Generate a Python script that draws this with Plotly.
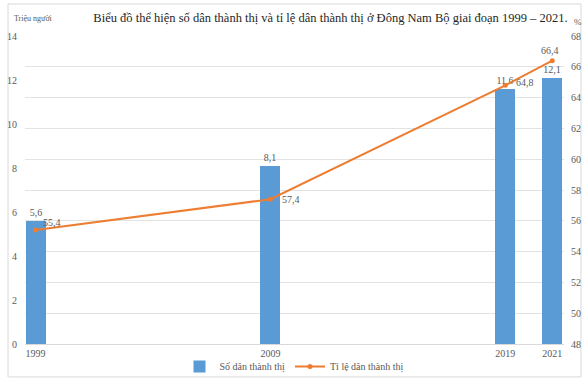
import plotly.graph_objects as go

years = [1999, 2009, 2019, 2021]
so_dan = [5.6, 8.1, 11.6, 12.1]
ti_le = [55.4, 57.4, 64.8, 66.4]
left_ticks = [0, 2, 4, 6, 8, 10, 12, 14]
right_ticks = [48, 50, 52, 54, 56, 58, 60, 62, 64, 66, 68]

FONT = "Liberation Serif"
TICK_COLOR = "#595959"
BAR_COLOR = "#5B9BD5"
LINE_COLOR = "#ED7D31"

# label placement style for the line values (offsets in px)
label_style = [
    dict(xanchor="left", xshift=5, yshift=8),
    dict(xanchor="left", xshift=10, yshift=0),
    dict(xanchor="left", xshift=9, yshift=3),
    dict(xanchor="center", xshift=-2, yshift=10),
]

fig = go.Figure()
fig.add_trace(go.Bar(
    x=years, y=so_dan, name="Số dân thành thị",
    marker=dict(color=BAR_COLOR, line=dict(width=0)),
    width=0.85,
    texttemplate="%{y:.1f}", textposition="outside",
    textfont=dict(family=FONT, size=10, color=TICK_COLOR),
    cliponaxis=False,
))
fig.add_trace(go.Scatter(
    x=years, y=ti_le, name="Tỉ lệ dân thành thị", yaxis="y2",
    mode="lines+markers",
    line=dict(color=LINE_COLOR, width=2),
    marker=dict(color=LINE_COLOR, size=5),
    cliponaxis=False,
))

annotations = [
    dict(text="Triệu người", xref="paper", yref="paper",
         x=-0.024, y=1.058, xanchor="left", yanchor="middle",
         showarrow=False, font=dict(family=FONT, size=8, color=TICK_COLOR)),
    dict(text="%", xref="paper", yref="paper",
         x=1.015, y=1.045, xanchor="left", yanchor="middle",
         showarrow=False, font=dict(family=FONT, size=9, color=TICK_COLOR)),
]
for x, v, st in zip(years, ti_le, label_style):
    annotations.append(dict(
        x=x, y=v, xref="x", yref="y2", text=f"{v:.1f}".replace(".", ","),
        showarrow=False, yanchor="middle",
        font=dict(family=FONT, size=10, color=TICK_COLOR), **st))

fig.update_layout(
    width=588, height=383,
    margin=dict(l=25, r=24, t=36, b=39, autoexpand=False),
    paper_bgcolor="white", plot_bgcolor="white",
    separators=",.",
    font=dict(family=FONT, size=10, color=TICK_COLOR),
    title=dict(
        text="Biểu đồ thể hiện số dân thành thị và tỉ lệ dân thành thị ở Đông Nam Bộ giai đoạn 1999 – 2021.",
        x=0.562, xanchor="center", y=0.955, yanchor="middle",
        font=dict(family=FONT, size=12.5, color="#262626"),
    ),
    xaxis=dict(
        type="linear", range=[1998.55, 2021.5],
        tickvals=years, ticktext=[str(y) for y in years],
        showgrid=False, zeroline=False,
        showline=True, linecolor="#D9D9D9", linewidth=1,
        ticks="", tickfont=dict(family=FONT, size=10, color=TICK_COLOR),
    ),
    yaxis=dict(
        range=[0, 14], tickvals=left_ticks,
        showgrid=False, zeroline=False, showline=False,
        ticks="", tickfont=dict(family=FONT, size=10, color=TICK_COLOR),
        ticklabelstandoff=7,
    ),
    yaxis2=dict(
        range=[48, 68], tickvals=right_ticks,
        overlaying="y", side="right",
        showgrid=True, gridcolor="#E3E3E3", gridwidth=1,
        zeroline=False, showline=False,
        ticks="", tickfont=dict(family=FONT, size=10, color=TICK_COLOR),
        ticklabelstandoff=6,
    ),
    legend=dict(
        orientation="h", x=0.5, xanchor="center", y=-0.073, yanchor="middle",
        bgcolor="rgba(0,0,0,0)",
        font=dict(family=FONT, size=10, color=TICK_COLOR),
        itemwidth=30, tracegroupgap=0,
    ),
    bargap=0,
    annotations=annotations,
    shapes=[
        dict(type="rect", xref="paper", yref="paper",
             x0=-0.0315, x1=1.0315, y0=-0.107, y1=1.104,
             line=dict(color="#D9D9D9", width=1), fillcolor="rgba(0,0,0,0)",
             layer="below"),
    ],
)

fig.write_html("out.html")
